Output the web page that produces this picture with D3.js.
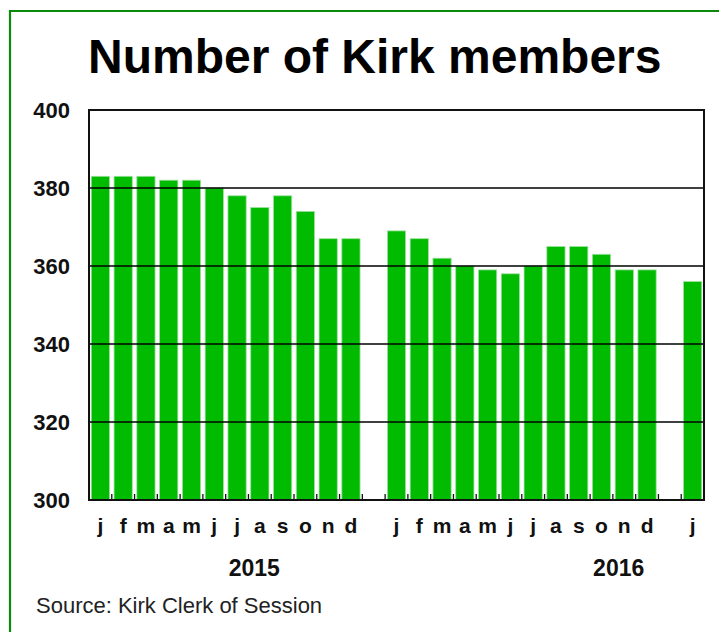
<!DOCTYPE html>
<html>
<head>
<meta charset="utf-8">
<script src="https://cdn.jsdelivr.net/npm/d3@7"></script>
<style>
  html, body { margin: 0; padding: 0; background: #fff; }
  svg { display: block; }
  text { font-family: "Liberation Sans", Arial, sans-serif; }
</style>
</head>
<body>
<script>
// ---- data ----
const months = ["j","f","m","a","m","j","j","a","s","o","n","d"];
const values2015 = [383,383,383,382,382,380,378,375,378,374,367,367];
const values2016 = [369,367,362,360,359,358,360,365,365,363,359,359];
const values2017 = [356];
const yearLabels = ["2015","2016"];
const yTicks = [300,320,340,360,380,400];
const title = "Number of Kirk members";
const source = "Source: Kirk Clerk of Session";

// slot table built from the arrays (null = empty gap slot)
const slots = [];
values2015.forEach((v,i)=>slots.push({id:"2015-"+i, label:months[i], value:v}));
slots.push({id:"gap1", label:"", value:null});
values2016.forEach((v,i)=>slots.push({id:"2016-"+i, label:months[i], value:v}));
slots.push({id:"gap2", label:"", value:null});
values2017.forEach((v,i)=>slots.push({id:"2017-"+i, label:months[i], value:v}));

const W = 719, H = 632;
const pLeft = 89, pRight = 704, pTop = 110, pBottom = 500;

const svg = d3.select("body").append("svg").attr("width", W).attr("height", H);

// outer green frame (left & top edges visible)
svg.append("path")
  .attr("d", `M10,${H} L10,11 L${W},11`)
  .attr("fill","none").attr("stroke","#0a8a0a").attr("stroke-width",2.2);

// title
svg.append("text").attr("x", 88).attr("y", 73)
  .attr("font-size", 48).attr("font-weight","bold").attr("fill","#000")
  .text(title);

const x = d3.scaleBand().domain(slots.map(d=>d.id)).range([pLeft,pRight])
  .paddingInner(0.2).paddingOuter(0.1);
const y = d3.scaleLinear().domain([300,400]).range([pBottom, pTop]);

// bars
svg.append("g").selectAll("rect").data(slots.filter(d=>d.value!=null)).join("rect")
  .attr("x", d=>x(d.id)).attr("width", x.bandwidth())
  .attr("y", d=>y(d.value)).attr("height", d=>y(300)-y(d.value))
  .attr("fill","#00bb00").attr("stroke","#9fe09f").attr("stroke-width",0.8);

// gridlines (on top of bars)
svg.append("g").selectAll("line").data(yTicks.filter(t=>t>300 && t<400)).join("line")
  .attr("x1", pLeft).attr("x2", pRight).attr("y1", d=>y(d)).attr("y2", d=>y(d))
  .attr("stroke","#000").attr("stroke-width",1.5);

// y axis labels
const yAxis = d3.axisLeft(y).tickValues(yTicks).tickSize(0).tickPadding(19);
const gy = svg.append("g").attr("transform",`translate(${pLeft},0)`).call(yAxis);
gy.select(".domain").remove();
gy.selectAll("text").attr("font-size",22).attr("font-weight","bold")
  .attr("font-family",'"Liberation Sans", Arial, sans-serif').attr("fill","#111")
  .attr("dy","0.36em");

// x tick marks at slot boundaries (pointing up)
const step = x.step();
const bounds = d3.range(slots.length+1).map(i=>pLeft + i*step);
svg.append("g").selectAll("line").data(bounds).join("line")
  .attr("x1", d=>d).attr("x2", d=>d).attr("y1", pBottom).attr("y2", pBottom-6)
  .attr("stroke","#111").attr("stroke-width",1.3);

// plot frame
svg.append("rect").attr("x", pLeft).attr("y", pTop)
  .attr("width", pRight-pLeft).attr("height", pBottom-pTop)
  .attr("fill","none").attr("stroke","#111").attr("stroke-width",2);

// month labels via bottom axis
const xAxis = d3.axisBottom(x).tickSize(0).tickPadding(0)
  .tickFormat(id => slots.find(s=>s.id===id).label);
const gx = svg.append("g").attr("transform",`translate(0,${pBottom})`).call(xAxis);
gx.select(".domain").remove();
gx.selectAll("text").attr("font-size",21).attr("font-weight","bold")
  .attr("font-family",'"Liberation Sans", Arial, sans-serif').attr("fill","#111")
  .attr("dy", null).attr("y", 33);

// year labels
const yearSlotStart = [6, 22];
svg.append("g").selectAll("text").data(yearLabels).join("text")
  .attr("x", (d,i)=>bounds[yearSlotStart[i]]+3).attr("y", 576)
  .attr("font-size",23).attr("font-weight","bold").attr("fill","#111")
  .text(d=>d);

// source
svg.append("text").attr("x", 36).attr("y", 613)
  .attr("font-size",22).attr("fill","#222").text(source);
</script>
</body>
</html>
